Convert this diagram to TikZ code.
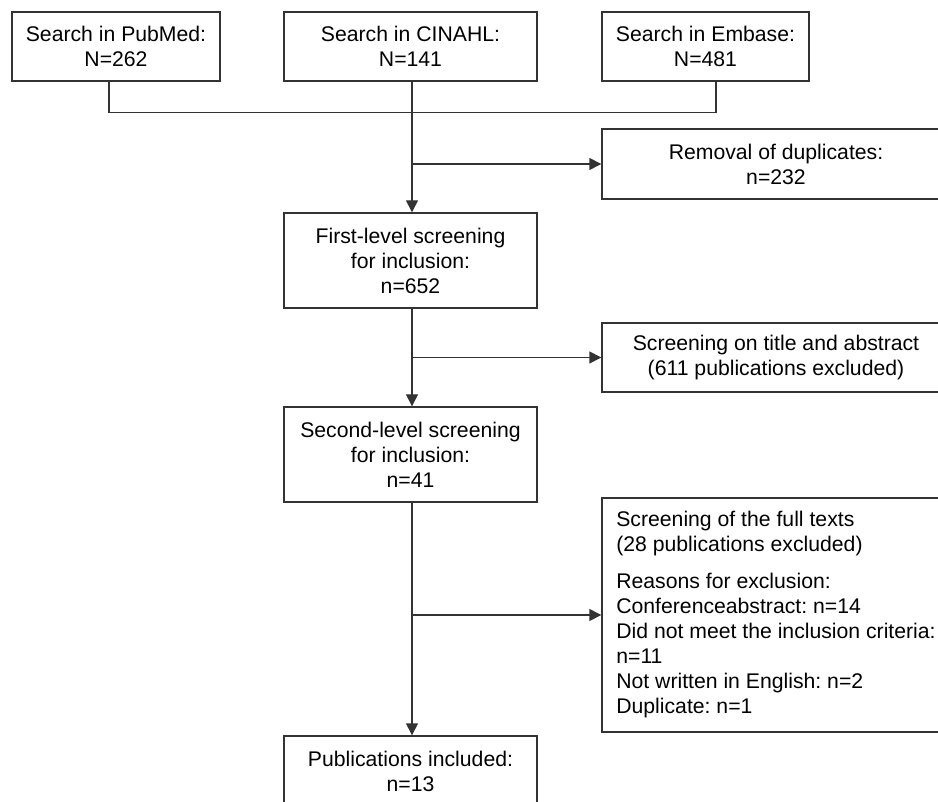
\documentclass[tikz,border=0pt]{standalone}
\usepackage{fontspec}
\setmainfont{Liberation Sans}
\usetikzlibrary{arrows.meta,positioning}
\frenchspacing

\begin{document}
\begin{tikzpicture}[x=1pt,y=-1pt,>={Triangle[length=12pt,width=12pt]},
every node/.style={font=\fontsize{21.2}{25}\selectfont},
box/.style={draw=black!80,line width=1.4pt,inner sep=0pt,align=center},
sidebox/.style={box,minimum width=348},
flow/.style={draw=black!80,line width=1.4pt}]
\useasboundingbox (0,0) rectangle (938,802);
\node[box,minimum width=208,minimum height=69] (pubmed) at (116,46.5) {Search in PubMed:\\N=262};
\node[box,minimum width=253,minimum height=69] (cinahl) at (410.5,46.5) {Search in CINAHL:\\N=141};
\node[box,minimum width=207,minimum height=69] (embase) at (705.5,46.5) {Search in Embase:\\N=481};
\node[sidebox,minimum height=70] (removal) at (776,164) {Removal of duplicates:\\n=232};
\node[box,minimum width=253,minimum height=95] (first) at (410.5,260.5) {First-level screening\\for inclusion:\\n=652};
\node[sidebox,minimum height=69] (screen) at (776,357.5) {Screening on title and abstract\\(611 publications excluded)};
\node[box,minimum width=253,minimum height=95] (second) at (410.5,454.5) {Second-level screening\\for inclusion:\\n=41};
\node[sidebox,minimum height=234,align=left] (fulltext) at (776,615) {Screening of the full texts\\(28 publications excluded)\\[12pt]Reasons for exclusion:\\Conferenceabstract: n=14\\Did not meet the inclusion criteria:\\n=11\\Not written in English: n=2\\Duplicate: n=1};
\node[box,minimum width=253,minimum height=71] (final) at (410.5,771.5) {Publications included:\\n=13};

\draw[flow] ([xshift=-7pt]pubmed.south) -- ++(0,31) -| ([xshift=10.5pt]embase.south);
\draw[flow,->] ([xshift=1.5pt]cinahl.south) -- ([xshift=1.5pt]first.north);
\draw[flow,->] ([xshift=1.5pt]cinahl.south |- removal.west) -- (removal.west);
\draw[flow,->] ([xshift=1.5pt]first.south) -- ([xshift=1.5pt]second.north);
\draw[flow,->] ([xshift=1.5pt]first.south |- screen.west) -- (screen.west);
\draw[flow,->] ([xshift=1.5pt]second.south) -- ([xshift=1.5pt]final.north);
\draw[flow,->] ([xshift=1.5pt]second.south |- fulltext.west) -- (fulltext.west);
\end{tikzpicture}
\end{document}
